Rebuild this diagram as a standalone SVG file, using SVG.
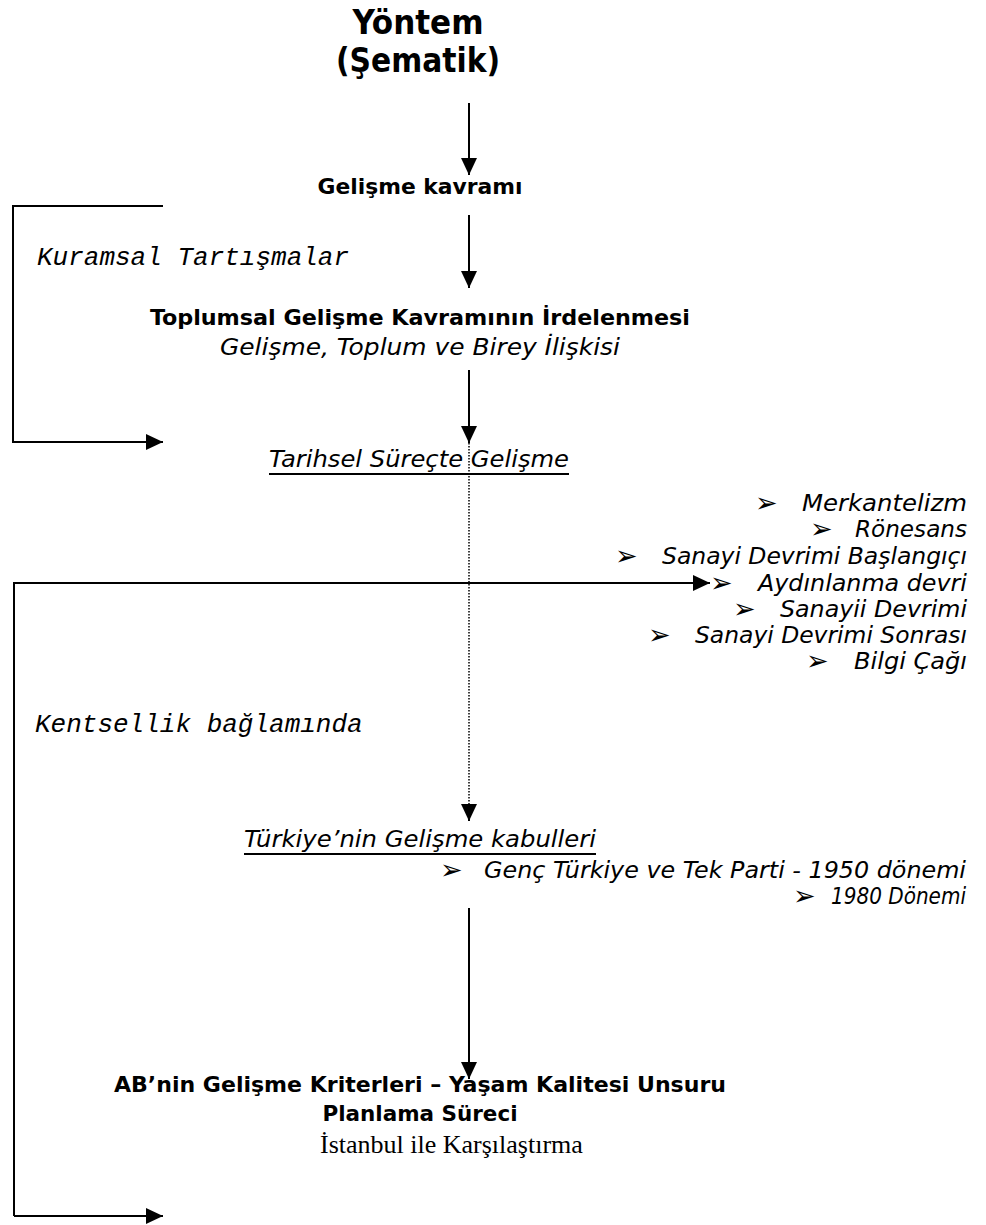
<svg xmlns="http://www.w3.org/2000/svg" width="986" height="1225" viewBox="0 0 986 1225">
<style>
text{fill:#000;}
.b{font-family:"DejaVu Sans Condensed","DejaVu Sans",sans-serif;font-weight:bold;font-size:22px;}
.t{font-family:"DejaVu Sans Condensed","DejaVu Sans",sans-serif;font-weight:bold;font-size:33px;}
.i{font-family:"DejaVu Sans Condensed","DejaVu Sans",sans-serif;font-style:italic;font-size:23px;}
.m{font-family:"Liberation Mono","Courier New",monospace;font-style:italic;font-size:26px;}
.r{font-family:"Liberation Serif","Times New Roman",serif;font-size:26px;}
.bul{font-family:"DejaVu Sans",sans-serif;font-size:27px;}
.ln{stroke:#000;stroke-width:2;fill:none;}
.dot{stroke:#000;stroke-width:1.5;fill:none;stroke-dasharray:1.5 1.5;}
.u{stroke:#000;stroke-width:1.8;}
</style>
<defs>
<marker id="ah" markerUnits="userSpaceOnUse" markerWidth="17" markerHeight="16" refX="17" refY="8" orient="auto">
<path d="M0,0 L17,8 L0,16 Z" fill="#000"/>
</marker>
</defs>
<g id="title">
<text class="t" x="418" y="34" text-anchor="middle" textLength="131" lengthAdjust="spacingAndGlyphs">Yöntem</text>
<text class="t" x="418" y="72" text-anchor="middle" textLength="164" lengthAdjust="spacingAndGlyphs">(Şematik)</text>
</g>
<g id="n-gelisme">
<text class="b" x="420" y="194" text-anchor="middle" textLength="205" lengthAdjust="spacingAndGlyphs">Gelişme kavramı</text>
</g>
<g id="n-kuramsal">
<text class="m" x="37" y="265">Kuramsal Tartışmalar</text>
</g>
<g id="n-toplumsal">
<text class="b" x="420" y="325" text-anchor="middle" textLength="540" lengthAdjust="spacingAndGlyphs">Toplumsal Gelişme Kavramının İrdelenmesi</text>
<text class="i" x="420" y="355" text-anchor="middle" textLength="400" lengthAdjust="spacingAndGlyphs">Gelişme, Toplum ve Birey İlişkisi</text>
</g>
<g id="n-tarihsel">
<text class="i" x="269" y="467" textLength="300" lengthAdjust="spacingAndGlyphs">Tarihsel Süreçte Gelişme</text>
<line class="u" x1="269" y1="474" x2="569" y2="474"/>
<text class="bul" x="755" y="512">➢</text><text class="i" x="967" y="511" text-anchor="end" textLength="165" lengthAdjust="spacingAndGlyphs">Merkantelizm</text>
<text class="bul" x="810" y="538">➢</text><text class="i" x="967" y="537" text-anchor="end" textLength="112" lengthAdjust="spacingAndGlyphs">Rönesans</text>
<text class="bul" x="615" y="565">➢</text><text class="i" x="967" y="564" text-anchor="end" textLength="305" lengthAdjust="spacingAndGlyphs">Sanayi Devrimi Başlangıçı</text>
<text class="bul" x="710" y="592">➢</text><text class="i" x="967" y="591" text-anchor="end" textLength="209" lengthAdjust="spacingAndGlyphs">Aydınlanma devri</text>
<text class="bul" x="733" y="618">➢</text><text class="i" x="967" y="617" text-anchor="end" textLength="187" lengthAdjust="spacingAndGlyphs">Sanayii Devrimi</text>
<text class="bul" x="648" y="644">➢</text><text class="i" x="967" y="643" text-anchor="end" textLength="272" lengthAdjust="spacingAndGlyphs">Sanayi Devrimi Sonrası</text>
<text class="bul" x="806" y="670">➢</text><text class="i" x="967" y="669" text-anchor="end" textLength="113" lengthAdjust="spacingAndGlyphs">Bilgi Çağı</text>
</g>
<g id="n-kentsellik">
<text class="m" x="35" y="732">Kentsellik bağlamında</text>
</g>
<g id="n-turkiye">
<text class="i" x="244" y="847" textLength="352" lengthAdjust="spacingAndGlyphs">Türkiye’nin Gelişme kabulleri</text>
<line class="u" x1="244" y1="854" x2="596" y2="854"/>
<text class="bul" x="440" y="879">➢</text><text class="i" x="966" y="878" text-anchor="end" textLength="482" lengthAdjust="spacingAndGlyphs">Genç Türkiye ve Tek Parti - 1950 dönemi</text>
<text class="bul" x="793" y="905">➢</text><text class="i" x="966" y="904" text-anchor="end" textLength="135" lengthAdjust="spacingAndGlyphs">1980 Dönemi</text>
</g>
<g id="n-ab">
<text class="b" x="420" y="1092" text-anchor="middle" textLength="612" lengthAdjust="spacingAndGlyphs">AB’nin Gelişme Kriterleri – Yaşam Kalitesi Unsuru</text>
<text class="b" x="420" y="1121" text-anchor="middle" textLength="195" lengthAdjust="spacingAndGlyphs">Planlama Süreci</text>
<text class="r" x="320" y="1153">İstanbul ile Karşılaştırma</text>
</g>
<g id="connectors">
<line class="ln" x1="469" y1="103" x2="469" y2="175" marker-end="url(#ah)"/>
<line class="ln" x1="469" y1="215" x2="469" y2="288" marker-end="url(#ah)"/>
<line class="ln" x1="469" y1="370" x2="469" y2="443" marker-end="url(#ah)"/>
<line class="dot" x1="469" y1="443" x2="469" y2="806"/>
<line class="ln" x1="469" y1="804" x2="469" y2="821" marker-end="url(#ah)"/>
<line class="ln" x1="469" y1="908" x2="469" y2="1079" marker-end="url(#ah)"/>
<polyline class="ln" points="163,206 13,206 13,442 163,442" marker-end="url(#ah)"/>
<polyline class="ln" points="14,1216 14,583 710,583" marker-end="url(#ah)"/>
<line class="ln" x1="14" y1="1216" x2="163" y2="1216" marker-end="url(#ah)"/>
</g>
</svg>
